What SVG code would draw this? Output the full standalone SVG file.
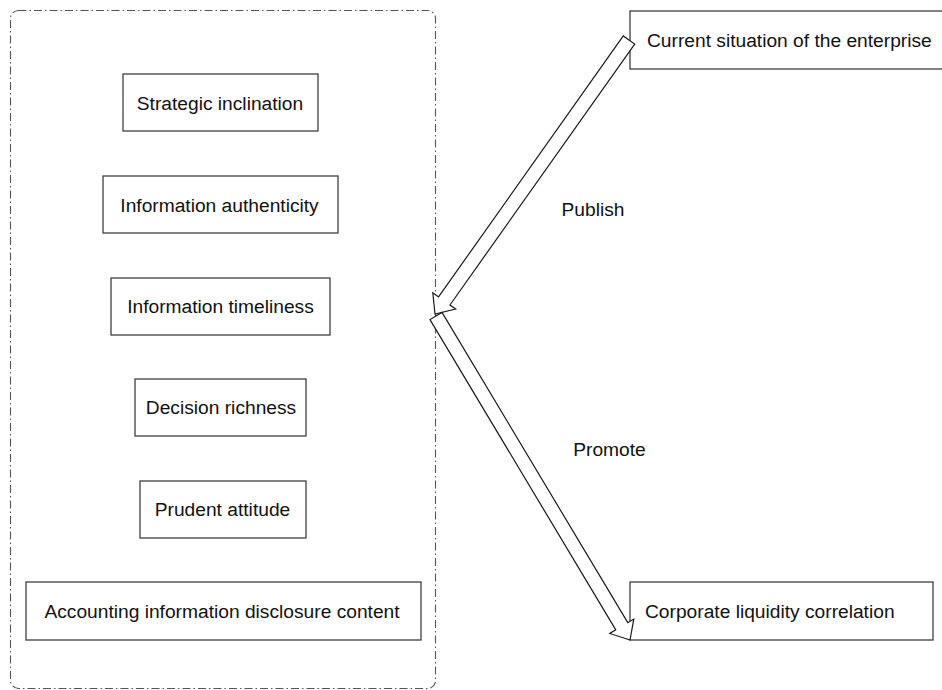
<svg xmlns="http://www.w3.org/2000/svg" width="942" height="690" viewBox="0 0 942 690">
<style>
.box{fill:#fff;stroke:#404040;stroke-width:1.3}
.lbl{font-family:"Liberation Sans",Arial,sans-serif;font-size:19.2px;fill:#111;text-anchor:middle}
.st{text-anchor:start}
.arrow{fill:#fff;stroke:#1a1a1a;stroke-width:1.2;stroke-linejoin:miter}
.group{fill:none;stroke:#555;stroke-width:1.1;stroke-dasharray:8,3,1.5,3}
</style>
<rect width="942" height="690" fill="#fff"/>
<g id="container">
<rect class="group" x="10.5" y="10.5" width="425" height="678" rx="8" ry="8"/>
</g>
<g id="n-strategic"><rect class="box" x="123" y="74" width="195" height="57"/><text class="lbl" x="220" y="109.5">Strategic inclination</text></g>
<g id="n-authenticity"><rect class="box" x="103" y="176" width="235" height="57"/><text class="lbl" x="219.5" y="211.5">Information authenticity</text></g>
<g id="n-timeliness"><rect class="box" x="111" y="278" width="219" height="57"/><text class="lbl" x="220.5" y="313">Information timeliness</text></g>
<g id="n-decision"><rect class="box" x="135" y="379" width="171" height="57"/><text class="lbl" x="221" y="414">Decision richness</text></g>
<g id="n-prudent"><rect class="box" x="140" y="481" width="166" height="57"/><text class="lbl" x="222.5" y="516">Prudent attitude</text></g>
<g id="n-accounting"><rect class="box" x="26" y="582" width="395" height="58"/><text class="lbl" x="222" y="618">Accounting information disclosure content</text></g>
<g id="n-current"><rect class="box" x="630" y="11" width="320" height="58"/><text class="lbl st" x="647" y="47">Current situation of the enterprise</text></g>
<g id="n-liquidity"><rect class="box" x="630" y="582" width="303" height="58"/><text class="lbl st" x="645" y="618">Corporate liquidity correlation</text></g>
<g id="connectors">
<polygon class="arrow" points="634.71,44.05 449.96,304.99 455.68,309.03 435,314 432.82,292.85 438.54,296.89 623.29,35.95"/>
<polygon class="arrow" points="442.01,312.40 627.79,622.67 633.79,619.08 630,640 609.77,633.46 615.77,629.87 429.99,319.60"/>
<text class="lbl" x="593" y="216">Publish</text>
<text class="lbl" x="609.5" y="456">Promote</text>
</g>
</svg>
